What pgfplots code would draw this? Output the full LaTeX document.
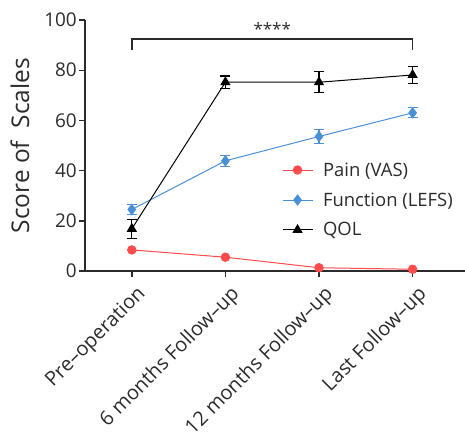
\documentclass[border=0pt]{standalone}
\usepackage{fontspec}
\setmainfont{Open Sans}
\usepackage{pgfplots}
\pgfplotsset{compat=1.18}
\definecolor{painred}{HTML}{FF4B4B}
\definecolor{lefsblue}{HTML}{4A90D9}
\definecolor{axgray}{HTML}{2B2B2B}
\begin{document}
\begin{tikzpicture}[x=1bp,y=1bp]
\begin{axis}[
  at={(85bp,160bp)}, anchor=south west,
  scale only axis, width=380bp, height=251bp,
  xmin=-0.5, xmax=3.56, ymin=0, ymax=100,
  axis x line*=bottom, axis y line*=left,
  x axis line style={-}, y axis line style={-},
  axis line style={line width=1.4bp, color=axgray},
  tick align=outside, major tick length=6bp,
  tick style={line width=1.4bp, color=axgray},
  xtick={0,1,2,3},
  xticklabels={Pre--operation,6 months Follow--up,12 months Follow--up,Last Follow--up},
  ytick={0,20,40,60,80,100},
  /pgf/number format/assume math mode=true,
  ticklabel style={font=\fontsize{19}{22}\selectfont, text=axgray},
  xticklabel style={font=\fontsize{20}{24}\selectfont, xshift=4bp, yshift=-5bp, rotate=45, anchor=north east, inner sep=1.5bp},
  yticklabel style={inner sep=2bp},
  ylabel={Score of\ \ Scales},
  ylabel style={at={(rel axis cs:-0.171,0.5)}, anchor=center, font=\fontsize{24.5}{29}\selectfont, text=axgray},
  clip=false,
  legend style={at={(0.518,0.441)}, anchor=north west, draw=none, fill=none,
    font=\fontsize{18.5}{22}\selectfont, row sep=11bp, inner sep=0pt, text=axgray,
    /tikz/every odd column/.append style={column sep=8bp}},
  legend cell align=left,
  legend image code/.code={\draw[mark repeat=2,mark phase=2] plot coordinates {(0bp,0bp)(15bp,0bp)(30bp,0bp)};},
]
\addplot[painred, line width=1bp, mark=*, mark size=4.2bp, mark options={solid, fill=painred}]
  coordinates {(0,8.4) (1,5.5) (2,1.3) (3,0.7)};
\addlegendentry{Pain (VAS)}
\addplot[lefsblue, line width=1bp, mark=diamond*, mark size=5bp, mark options={solid, fill=lefsblue},
  error bars/.cd, y dir=both, y explicit,
  error bar style={line width=1.2bp, lefsblue},
  error mark options={rotate=90, mark size=5bp, line width=1.2bp, lefsblue}]
  coordinates {(0,24.5) +- (0,2.0) (1,43.9) +- (0,2.2) (2,53.6) +- (0,2.7) (3,63.0) +- (0,2.0)};
\addlegendentry{Function (LEFS)}
\addplot[black, line width=1bp, mark=triangle*, mark size=5bp, mark options={solid, fill=black},
  error bars/.cd, y dir=both, y explicit,
  error bar style={line width=1.2bp, black},
  error mark options={rotate=90, mark size=5bp, line width=1.2bp, black}]
  coordinates {(0,16.8) +- (0,3.8) (1,75.2) +- (0,2.5) (2,75.2) +- (0,4.2) (3,78.1) +- (0,3.3)};
\addlegendentry{QOL}
\draw[line width=1.4bp, axgray] (axis cs:0,88) -- (axis cs:0,92.4) -- (axis cs:3,92.4) -- (axis cs:3,88);
\node[anchor=base, font=\fontsize{17}{20}\selectfont, text=axgray, inner sep=0pt] at (axis cs:1.5,94.0) {****};
\end{axis}
\pgfresetboundingbox
\useasboundingbox (0,0) rectangle (465,431);
\end{tikzpicture}
\end{document}
